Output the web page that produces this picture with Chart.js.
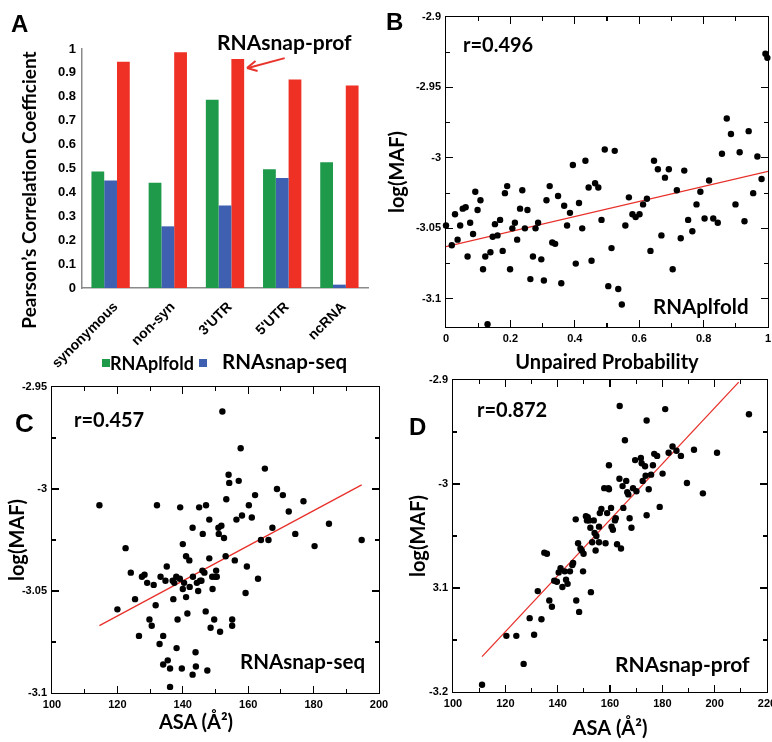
<!DOCTYPE html>
<html><head><meta charset="utf-8">
<script src="https://cdn.jsdelivr.net/npm/chart.js@4/dist/chart.umd.min.js"></script>
<style>
html,body{margin:0;padding:0;background:#fff;}
#wrap{position:relative;width:772px;height:742px;overflow:hidden;background:#fff;}
canvas{position:absolute;}
.t{position:absolute;white-space:nowrap;line-height:1;color:#000;}
.lt{font-family:Lato,'Open Sans',sans-serif;font-weight:700;font-size:20px;}
.pl{font-family:'Liberation Sans',Arial,sans-serif;font-weight:700;font-size:24px;}
.sq{position:absolute;width:8px;height:8px;}
.ar{position:absolute;height:2px;background:#e8342a;transform-origin:0 50%;}
.xl{position:absolute;width:160px;height:16px;line-height:16px;text-align:right;white-space:nowrap;color:#000;
    font-family:'Liberation Sans',Arial,sans-serif;font-weight:700;font-size:14px;transform-origin:100% 50%;transform:rotate(-45deg);}
.fr{position:absolute;border:1.5px solid #000;box-sizing:border-box;}
.tk{position:absolute;background:#000;}
</style></head><body>
<div id="wrap">
<canvas id="cA" width="380" height="380" style="left:0;top:0"></canvas>
<canvas id="cB" width="392" height="380" style="left:380px;top:0"></canvas>
<canvas id="cC" width="390" height="372" style="left:0;top:370px"></canvas>
<canvas id="cD" width="382" height="372" style="left:390px;top:370px"></canvas>

<div class="t pl" style="left:11px;top:12px;">A</div>
<div class="t pl" style="left:386px;top:10px;">B</div>
<div class="t pl" style="left:15px;top:410px;font-size:26px;">C</div>
<div class="t pl" style="left:409px;top:415px;">D</div>

<div class="t lt" style="left:-121px;top:180px;width:300px;height:20px;line-height:20px;text-align:center;font-size:19px;transform:rotate(-90deg);">Pearson&#8217;s Correlation Coefficient</div>
<div class="t lt" style="left:217px;top:31px;font-size:21px;">RNAsnap-prof</div>
<div class="ar" style="left:248px;top:67px;width:38px;transform:rotate(-15.1deg);"></div>
<div class="ar" style="left:247px;top:67px;width:11px;transform:rotate(-39.5deg);"></div>
<div class="ar" style="left:247px;top:67px;width:11px;transform:rotate(16deg);"></div>

<div class="sq" style="left:102px;top:359px;background:#1e9a4a;"></div>
<div class="t lt" style="left:110px;top:354px;font-size:18px;">RNAplfold</div>
<div class="sq" style="left:199px;top:359px;background:#3f5fb0;"></div>
<div class="t lt" style="left:222px;top:351px;font-size:20.5px;">RNAsnap-seq</div>

<div class="t lt" style="left:463px;top:34px;">r=0.496</div>
<div class="t lt" style="left:653px;top:296px;font-size:20.5px;">RNAplfold</div>
<div class="t lt" style="left:74px;top:409px;">r=0.457</div>
<div class="t lt" style="left:240px;top:651px;font-size:20.5px;">RNAsnap-seq</div>
<div class="t lt" style="left:96px;top:711px;width:200px;text-align:center;">ASA (&#197;&#178;)</div>
<div class="t lt" style="left:477px;top:399px;">r=0.872</div>
<div class="t lt" style="left:615px;top:653px;font-size:21px;">RNAsnap-prof</div>
</div>
<script>
// ---------- Panel A data ----------
const categories = ['synonymous', 'non-syn', "3'UTR", "5'UTR", 'ncRNA'];
const rnaplfold   = [0.487, 0.440, 0.788, 0.497, 0.526];
const rnasnapSeq  = [0.450, 0.258, 0.345, 0.460, 0.014];
const rnasnapProf = [0.947, 0.986, 0.958, 0.872, 0.847];
const aTickValues = [0, 0.1, 0.2, 0.3, 0.4, 0.5, 0.6, 0.7, 0.8, 0.9, 1];
const aTickLabels = ['0', '0.1', '0.2', '0.3', '0.4', '0.5', '0.6', '0.7', '0.8', '0.9', '1'];

// ---------- Panel B data (RNAplfold) ----------
const bX = [0.00,0.018,0.028,0.036,0.044,0.052,0.061,0.067,0.075,0.084,0.091,0.098,0.107,0.115,0.122,0.129,0.138,0.145,0.152,0.160,0.168,0.176,0.183,0.190,0.199,0.206,0.214,0.221,0.230,0.237,0.245,0.253,0.262,0.270,0.278,0.286,0.296,0.304,0.312,0.322,0.330,0.339,0.348,0.358,0.367,0.376,0.385,0.394,0.403,0.413,0.423,0.433,0.443,0.452,0.463,0.473,0.483,0.493,0.504,0.514,0.524,0.535,0.546,0.557,0.568,0.579,0.589,0.601,0.612,0.624,0.635,0.646,0.658,0.669,0.680,0.692,0.704,0.717,0.729,0.740,0.752,0.765,0.778,0.790,0.803,0.817,0.830,0.844,0.857,0.872,0.885,0.899,0.912,0.927,0.940,0.954,0.967,0.980,0.992,0.998];
const bY = [-3.048,-3.062,-3.040,-3.058,-3.048,-3.036,-3.035,-3.070,-3.046,-3.054,-3.024,-3.037,-3.030,-3.079,-3.070,-3.118,-3.067,-3.056,-3.047,-3.055,-3.044,-3.066,-3.025,-3.020,-3.079,-3.050,-3.046,-3.058,-3.036,-3.023,-3.050,-3.037,-3.086,-3.070,-3.050,-3.046,-3.072,-3.087,-3.030,-3.020,-3.060,-3.061,-3.027,-3.089,-3.034,-3.048,-3.039,-3.005,-3.075,-3.032,-3.050,-3.002,-3.021,-3.073,-3.018,-3.021,-3.044,-2.994,-3.091,-3.064,-2.995,-3.093,-3.104,-3.048,-3.028,-3.040,-3.042,-3.040,-3.033,-3.029,-3.066,-3.002,-3.008,-3.055,-3.014,-3.008,-3.079,-3.023,-3.057,-3.009,-3.044,-3.052,-3.033,-3.024,-3.043,-3.016,-3.043,-3.046,-2.997,-2.972,-2.983,-3.033,-2.996,-3.045,-2.981,-3.025,-2.999,-3.015,-2.926,-2.929];
const bFitX = [0, 1];
const bFitY = [-3.063, -3.0096];
const bXTicks = [0, 0.2, 0.4, 0.6, 0.8, 1];
const bXLabels = ['0', '0.2', '0.4', '0.6', '0.8', '1'];
const bYTicks = [-2.9, -2.95, -3, -3.05, -3.1];
const bYLabels = ['-2.9', '-2.95', '-3', '-3.05', '-3.1'];

// ---------- Panel C data (RNAsnap-seq) ----------
const cX = [114.5,120.0,122.5,124.1,125.4,126.6,127.5,128.3,129.1,129.8,130.5,131.1,131.7,132.1,132.9,133.2,134.0,134.0,134.7,135.1,135.4,136.1,136.1,136.9,137.1,137.4,138.0,138.1,138.4,139.1,139.2,139.7,140.0,140.0,140.4,141.0,141.0,141.4,142.0,142.1,143.0,143.0,143.1,143.9,144.0,144.3,144.7,145.0,145.3,145.7,146.0,146.1,146.6,147.0,147.1,147.5,148.1,148.1,148.5,149.0,149.1,149.6,149.9,150.2,150.4,150.9,151.0,151.4,151.8,152.1,152.6,153.1,153.3,154.0,154.2,155.1,155.1,155.9,156.4,157.1,157.7,158.1,159.2,159.6,160.2,161.1,162.1,163.0,163.9,165.1,166.2,167.4,168.8,170.6,172.4,174.4,176.9,180.3,184.7,194.7];
const cY = [-3.008,-3.059,-3.029,-3.041,-3.054,-3.072,-3.043,-3.042,-3.046,-3.064,-3.067,-3.047,-3.057,-3.008,-3.076,-3.043,-3.072,-3.086,-3.045,-3.038,-3.084,-3.097,-3.088,-3.045,-3.054,-3.046,-3.043,-3.078,-3.064,-3.044,-3.009,-3.088,-3.049,-3.027,-3.046,-3.053,-3.033,-3.061,-3.035,-3.048,-3.019,-3.091,-3.043,-3.080,-3.087,-3.046,-3.050,-3.009,-3.045,-3.045,-3.040,-3.022,-3.041,-3.060,-3.008,-3.089,-3.034,-3.015,-3.068,-3.043,-3.049,-3.064,-3.043,-3.040,-3.043,-3.019,-3.022,-3.070,-3.018,-2.962,-3.024,-3.033,-3.005,-2.993,-2.997,-3.064,-3.067,-3.035,-3.015,-2.996,-2.980,-3.013,-3.051,-3.038,-3.008,-3.014,-3.003,-3.044,-3.025,-2.990,-3.025,-3.019,-3.000,-3.003,-3.011,-3.022,-3.006,-3.028,-3.017,-3.025];
const cFitX = [114.5, 194.7];
const cFitY = [-3.067, -2.998];
const cXTicks = [100, 120, 140, 160, 180, 200];
const cXLabels = ['100', '120', '140', '160', '180', '200'];
const cYTicks = [-2.95, -3, -3.05, -3.1];
const cYLabels = ['-2.95', '-3', '-3.05', '-3.1'];

// ---------- Panel D data (RNAsnap-prof) ----------
const dX = [111.1,120.4,124.2,127.0,129.3,131.0,132.4,133.8,134.9,135.9,136.8,137.8,138.7,139.7,140.4,141.1,141.8,142.7,143.2,143.8,144.7,145.6,145.9,146.9,147.1,147.8,148.2,148.7,149.2,149.7,149.9,150.8,151.2,151.5,152.0,152.5,152.7,153.2,153.8,154.1,154.5,154.8,155.8,155.8,156.1,156.7,157.8,158.3,158.9,159.4,159.6,159.6,160.4,160.6,161.1,161.9,162.2,162.7,163.6,163.7,164.2,164.8,165.1,165.7,166.2,166.6,167.0,167.5,168.2,168.8,169.6,170.1,171.8,172.1,172.5,173.4,173.6,174.0,174.0,174.8,175.7,176.4,176.9,178.0,179.0,180.1,181.1,182.4,183.9,185.4,187.1,189.4,192.1,195.5,200.9,213.1];
const dY = [-3.193,-3.146,-3.146,-3.173,-3.129,-3.145,-3.103,-3.130,-3.066,-3.067,-3.112,-3.118,-3.093,-3.094,-3.085,-3.081,-3.099,-3.084,-3.092,-3.096,-3.084,-3.078,-3.076,-3.034,-3.112,-3.057,-3.123,-3.062,-3.064,-3.084,-3.067,-3.031,-3.035,-3.032,-3.035,-3.042,-3.104,-3.056,-3.035,-3.047,-3.064,-3.050,-3.041,-3.056,-3.028,-3.024,-3.004,-3.057,-3.028,-3.004,-3.005,-2.982,-3.023,-3.041,-3.044,-3.035,-3.033,-3.058,-2.995,-2.925,-3.062,-3.002,-3.023,-2.958,-2.997,-3.008,-3.010,-3.033,-3.042,-3.004,-2.977,-3.007,-2.975,-2.980,-2.997,-2.983,-2.992,-3.030,-2.939,-3.005,-2.991,-2.982,-2.971,-2.973,-3.022,-2.990,-2.928,-2.970,-2.964,-2.968,-2.973,-2.999,-2.967,-3.009,-2.970,-2.933];
const dFitX = [111.1, 209.2];
const dFitY = [-3.166, -2.902];
const dXTicks = [100, 120, 140, 160, 180, 200, 220];
const dXLabels = ['100', '120', '140', '160', '180', '200', '220'];
const dYTicks = [-2.9, -3, -3.1, -3.2];
const dYLabels = ['-2.9', '-3', '3.1', '-3.2'];

// ---------- helpers ----------
const wrap = document.getElementById('wrap');
const TICK_FONT = {weight: 'bold', size: 11};
const TITLE_FONT = {family: 'Lato', weight: 'bold', size: 20};

function zeroPad(s) { s.paddingLeft = 0; s.paddingRight = 0; s.paddingTop = 0; s.paddingBottom = 0; }
function fitW(w) { return s => { s.width = w; zeroPad(s); }; }
function fitH(h) { return s => { s.height = h; zeroPad(s); }; }
function setTicks(values) { return s => { s.ticks = values.map(v => ({value: v})); }; }
function pts(xs, ys) { const o = []; for (let i = 0; i < Math.min(xs.length, ys.length); i++) o.push({x: xs[i], y: ys[i]}); return o; }

function addDiv(cls, l, t, w, h) {
  const d = document.createElement('div');
  d.className = cls;
  d.style.left = l + 'px'; d.style.top = t + 'px';
  if (w !== undefined) d.style.width = w + 'px';
  if (h !== undefined) d.style.height = h + 'px';
  wrap.appendChild(d);
  return d;
}

// frame with inward major/minor tick marks, positioned through the chart's own scales
function addFrame(chart) {
  const c = chart.canvas, L = c.offsetLeft, T = c.offsetTop, a = chart.chartArea;
  const x = chart.scales.x, y = chart.scales.y;
  const major = 7, minor = 4, tw = 1.2;
  addDiv('fr', L + a.left - 0.75, T + a.top - 0.75, a.right - a.left + 1.5, a.bottom - a.top + 1.5);
  const marks = s => {
    const v = s.ticks.map(t => t.value).sort((p, q) => p - q);
    const out = v.map(val => [val, major]);
    for (let i = 0; i + 1 < v.length; i++) out.push([(v[i] + v[i + 1]) / 2, minor]);
    return out;
  };
  marks(x).forEach(([v, len]) => {
    const p = x.getPixelForValue(v);
    if (p <= a.left + 1 || p >= a.right - 1) return;
    addDiv('tk', L + p - tw / 2, T + a.bottom - len, tw, len);
    addDiv('tk', L + p - tw / 2, T + a.top, tw, len);
  });
  marks(y).forEach(([v, len]) => {
    const p = y.getPixelForValue(v);
    if (p <= a.top + 1 || p >= a.bottom - 1) return;
    addDiv('tk', L + a.left, T + p - tw / 2, len, tw);
    addDiv('tk', L + a.right - len, T + p - tw / 2, len, tw);
  });
}

function scatterChart(id, cfg) {
  const ch = new Chart(document.getElementById(id), {
    type: 'scatter',
    data: {
      datasets: [
        {data: pts(cfg.xs, cfg.ys), backgroundColor: '#000', borderWidth: 0, pointRadius: 3.2, pointHoverRadius: 3.2, clip: false},
        {data: pts(cfg.fx, cfg.fy), showLine: true, borderColor: '#e8302a', borderWidth: 1.3, pointRadius: 0, fill: false}
      ]
    },
    options: {
      responsive: false, animation: false,
      layout: {padding: cfg.pad},
      plugins: {legend: {display: false}},
      scales: {
        x: {
          type: 'linear', position: 'bottom', min: cfg.xMin, max: cfg.xMax,
          afterBuildTicks: setTicks(cfg.xTicks), afterFit: fitH(cfg.xH),
          grid: {display: false, drawTicks: false}, border: {display: false},
          ticks: {autoSkip: false, maxRotation: 0, minRotation: 0, padding: 5, color: '#000', font: TICK_FONT,
                  callback: (v, i) => cfg.xLabels[i]},
          title: {display: !!cfg.xTitle, text: cfg.xTitle || '', color: '#000', font: TITLE_FONT, padding: {top: 0, bottom: cfg.xTitlePad || 0}}
        },
        y: {
          type: 'linear', position: 'left', min: cfg.yMin, max: cfg.yMax,
          afterBuildTicks: setTicks(cfg.yTicks), afterFit: fitW(cfg.yW),
          grid: {display: false, drawTicks: false}, border: {display: false},
          ticks: {autoSkip: false, padding: 5, color: '#000', font: TICK_FONT,
                  callback: (v, i) => cfg.yLabels[i]},
          title: {display: true, text: 'log(MAF)', color: '#000', font: TITLE_FONT, padding: {top: cfg.yTitlePad, bottom: 0}}
        }
      }
    }
  });
  addFrame(ch);
  return ch;
}

// ---------- Panel A ----------
const chA = new Chart(document.getElementById('cA'), {
  type: 'bar',
  data: {
    labels: categories,
    datasets: [
      {label: 'RNAplfold', data: rnaplfold, backgroundColor: '#1e9a4a', categoryPercentage: 0.67, barPercentage: 1.0},
      {label: 'RNAsnap-seq', data: rnasnapSeq, backgroundColor: '#3f5fb0', categoryPercentage: 0.67, barPercentage: 1.0},
      {label: 'RNAsnap-prof', data: rnasnapProf, backgroundColor: '#ee3124', categoryPercentage: 0.67, barPercentage: 1.0}
    ]
  },
  options: {
    responsive: false, animation: false,
    layout: {padding: {top: 49, right: 12, left: 0, bottom: 0}},
    plugins: {legend: {display: false}},
    scales: {
      x: {
        afterFit: fitH(92),
        grid: {display: false, drawTicks: false},
        border: {display: true, color: '#8a8a8a', width: 1.5},
        ticks: {display: false}
      },
      y: {
        min: 0, max: 1,
        afterBuildTicks: setTicks(aTickValues), afterFit: fitW(82),
        grid: {display: false, drawTicks: false},
        border: {display: true, color: '#8a8a8a', width: 1.5},
        ticks: {autoSkip: false, padding: 6, color: '#000', font: {weight: 'bold', size: 13},
                callback: (v, i) => aTickLabels[i]}
      }
    }
  }
});
// rotated category labels, anchored at the category scale's tick positions
(function () {
  const c = chA.canvas, L = c.offsetLeft, T = c.offsetTop, s = chA.scales.x;
  categories.forEach((name, i) => {
    const px = s.getPixelForTick(i);
    const d = addDiv('xl', L + px + 4 - 160, T + s.top + 8);
    d.textContent = name;
  });
})();

// ---------- Panel B ----------
scatterChart('cB', {
  xs: bX, ys: bY, fx: bFitX, fy: bFitY,
  xMin: 0, xMax: 1, yMin: -3.12, yMax: -2.9,
  xTicks: bXTicks, xLabels: bXLabels, yTicks: bYTicks, yLabels: bYLabels,
  pad: {top: 17, right: 4, left: 0, bottom: 0},
  xH: 53, yW: 66, xTitle: 'Unpaired Probability', xTitlePad: 5, yTitlePad: 6
});

// ---------- Panel C ----------
scatterChart('cC', {
  xs: cX, ys: cY, fx: cFitX, fy: cFitY,
  xMin: 100, xMax: 200, yMin: -3.1, yMax: -2.95,
  xTicks: cXTicks, xLabels: cXLabels, yTicks: cYTicks, yLabels: cYLabels,
  pad: {top: 17, right: 11, left: 0, bottom: 0},
  xH: 49, yW: 52, xTitle: '', yTitlePad: 6
});

// ---------- Panel D ----------
scatterChart('cD', {
  xs: dX, ys: dY, fx: dFitX, fy: dFitY,
  xMin: 100, xMax: 220, yMin: -3.2, yMax: -2.9,
  xTicks: dXTicks, xLabels: dXLabels, yTicks: dYTicks, yLabels: dYLabels,
  pad: {top: 10, right: 5, left: 0, bottom: 0},
  xH: 50, yW: 63, xTitle: 'ASA (\u00C5\u00B2)', xTitlePad: 1, yTitlePad: 17
});
</script>
</body></html>
